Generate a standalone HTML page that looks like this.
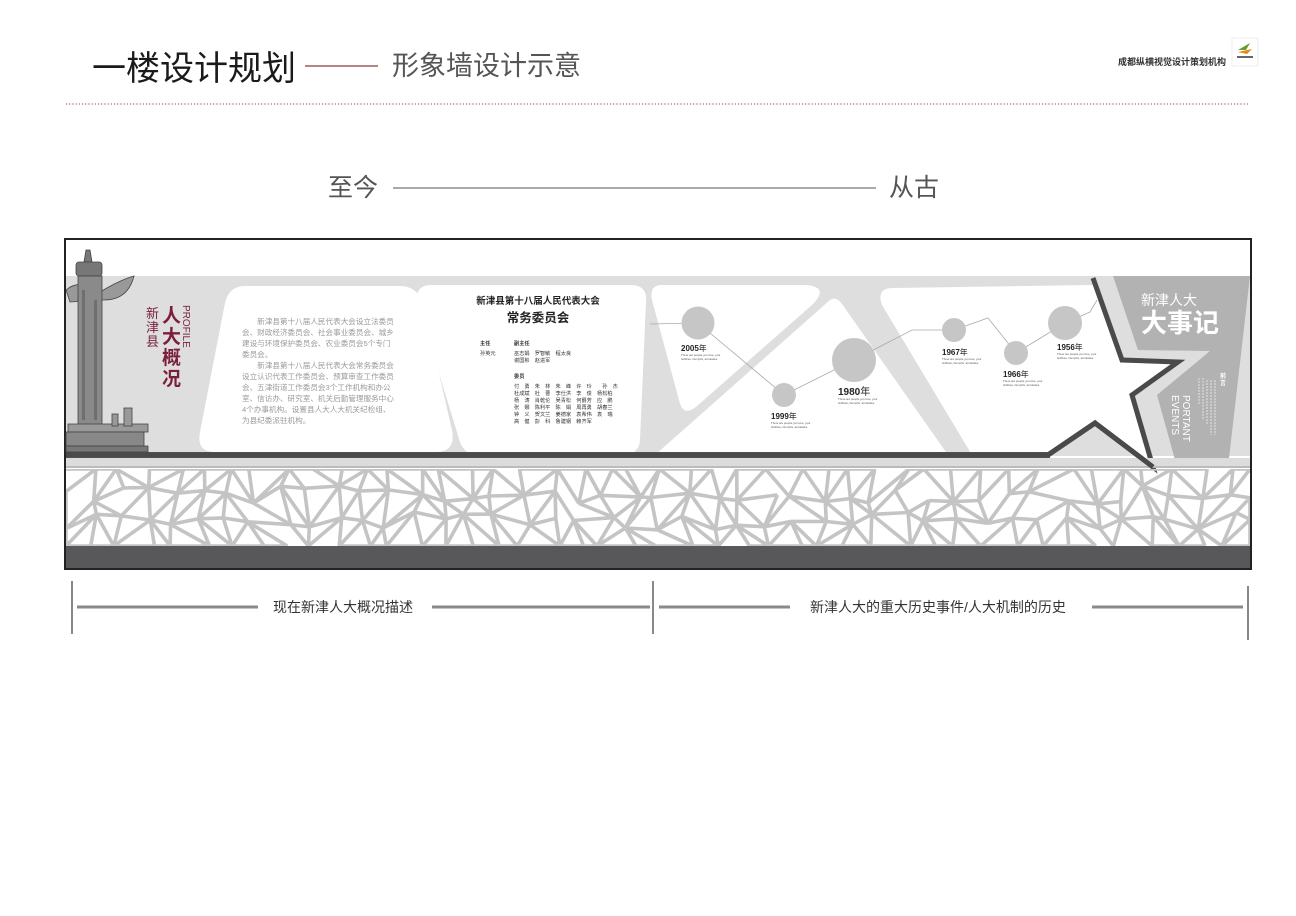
<!DOCTYPE html>
<html><head><meta charset="utf-8"><style>
html,body{margin:0;padding:0;background:#fff;}
svg{display:block;}
text{font-family:"Liberation Sans","Noto Sans CJK SC",sans-serif;}
</style></head><body>
<svg id="s" width="1296" height="916" viewBox="0 0 1296 916" xmlns="http://www.w3.org/2000/svg">
<rect width="1296" height="916" fill="#fff"/>
<!-- header -->
<text x="92" y="80" font-size="34" fill="#1a1a1a">一楼设计规划</text>
<line x1="305" y1="66" x2="378" y2="66" stroke="#8a3a3a" stroke-width="1.2"/>
<text x="392" y="75" font-size="27" fill="#555">形象墙设计示意</text>
<text x="1118" y="65" font-size="9" font-weight="bold" fill="#333">成都纵横视觉设计策划机构</text>
<rect x="1232" y="38" width="26" height="28" fill="#fff" stroke="#ddd" stroke-width="0.5"/>
<path d="M1238 50 L1250 43 L1246 50 Z" fill="#6a9a2a"/>
<path d="M1238 52 L1252 49 L1247 54 Z" fill="#e08a1a"/>
<rect x="1237" y="56" width="16" height="2" fill="#666"/>
<line x1="66" y1="104" x2="1248" y2="104" stroke="#8a4a4a" stroke-width="1" stroke-dasharray="1.2,2"/>
<!-- 至今 从古 -->
<text x="328" y="196" font-size="25" fill="#555">至今</text>
<line x1="393" y1="188" x2="876" y2="188" stroke="#555" stroke-width="1"/>
<text x="889" y="196" font-size="25" fill="#555">从古</text>

<!-- wall -->
<rect x="65" y="239" width="1186" height="330" fill="#fff" stroke="#222" stroke-width="2"/>
<rect x="66" y="276" width="1184" height="180" fill="#dedede"/>
<!-- panels -->
<path d="M245 286 L400 286 Q415 286 422 300 L452 430 Q456 452 436 452 L215 452 Q196 452 200 432 L225 303 Q229 286 245 286 Z" fill="#fff"/>
<path d="M432 285 L630 285 Q648 285 646 302 L640 440 Q639 455 622 455 L478 455 Q465 455 460 442 L418 305 Q413 285 432 285 Z" fill="#fff"/>
<path d="M662 285 L806 285 Q830 287 812 305 L697 406 Q683 418 679 400 L652 300 Q649 285 662 285 Z" fill="#fff"/>
<path d="M830 300 Q836 296 842 304 L948 455 L655 455 Z" fill="#fff"/>
<path d="M893 288 L1093 285 L1122 360 L1178 362 L1132 395 L1153 467 L1095 423 L1048 455 L972 455 L882 305 Q876 288 893 288 Z" fill="#fff"/>
<!-- right panel -->
<path d="M1113 276 L1250 276 L1228 467 L1177 467 L1157 395 L1210 351 L1138 350 Z" fill="#b2b2b2"/>
<!-- dark line + star -->
<rect x="66" y="452" width="984" height="6" fill="#555"/>
<polyline points="66,455 1048,455 1095,423 1153,467 1132,395 1178,362 1122,360 1093,278" fill="none" stroke="#4a4a4a" stroke-width="5" stroke-linejoin="miter"/>
<rect x="66" y="458" width="1184" height="10" fill="#dcdcdc"/>
<rect x="66" y="466" width="1184" height="2" fill="#bbb"/>
<polyline points="66,455 1048,455 1095,423 1153,467" fill="none" stroke="#4a4a4a" stroke-width="5"/>
<!-- pattern -->
<g id="pat"></g>
<rect x="66" y="546" width="1184" height="22" fill="#58585a"/>

<!-- pillar -->
<g fill="#777" stroke="#444" stroke-width="0.8">
<path d="M86 250 L90 250 L92 262 L84 262 Z"/>
<rect x="76" y="262" width="26" height="14" rx="3"/>
<path d="M66 290 Q80 278 100 292 Q120 280 134 276 Q128 300 104 300 L70 302 Z" fill="#999"/>
<rect x="78" y="276" width="24" height="150" fill="#8a8a8a"/>
<rect x="68" y="424" width="80" height="8" fill="#999"/>
<rect x="66" y="432" width="78" height="14" fill="#888"/>
<rect x="66" y="446" width="82" height="6" fill="#777"/>
<rect x="112" y="414" width="6" height="12" fill="#999"/>
<rect x="124" y="408" width="8" height="18" fill="#999"/>
</g>
<g fill="#6f6f6f">
<rect x="82" y="290" width="3" height="130"/><rect x="94" y="300" width="3" height="120"/>
</g>
<!-- left titles -->
<text font-size="13" fill="#7a1f3a"><tspan x="146" y="318">新</tspan><tspan x="146" y="332">津</tspan><tspan x="146" y="346">县</tspan></text>
<text font-size="19" font-weight="bold" fill="#7a1f3a"><tspan x="162" y="322">人</tspan><tspan x="162" y="343">大</tspan><tspan x="162" y="364">概</tspan><tspan x="162" y="385">况</tspan></text>
<text x="183" y="305" font-size="10" fill="#7a1f3a" transform="rotate(90 183 305)">PROFILE</text>

<!-- panel 1 text -->
<g font-size="7.6" fill="#9a9a9a">
<text x="242" y="324">　　新津县第十八届人民代表大会设立法委员</text>
<text x="242" y="335">会、财政经济委员会、社会事业委员会、城乡</text>
<text x="242" y="346">建设与环境保护委员会、农业委员会5个专门</text>
<text x="242" y="357">委员会。</text>
<text x="242" y="368">　　新津县第十八届人民代表大会常务委员会</text>
<text x="242" y="379">设立认识代表工作委员会、预算审查工作委员</text>
<text x="242" y="390">会、五津街道工作委员会3个工作机构和办公</text>
<text x="242" y="401">室、信访办、研究室、机关后勤管理服务中心</text>
<text x="242" y="412">4个办事机构。设置县人大人大机关纪检组、</text>
<text x="242" y="423">为县纪委派驻机构。</text>
</g>
<!-- panel 2 -->
<text x="538" y="304" font-size="9.5" font-weight="bold" fill="#222" text-anchor="middle">新津县第十八届人民代表大会</text>
<text x="538" y="322" font-size="12.5" font-weight="bold" fill="#222" text-anchor="middle">常务委员会</text>
<g font-size="5.2" fill="#333">
<text x="480" y="345" font-weight="bold">主任</text><text x="514" y="345" font-weight="bold">副主任</text>
<text x="480" y="355">孙英元</text><text x="514" y="355">巫志娟　罗智敏　程太良</text>
<text x="514" y="362">谢国彬　赵进军</text>
<text x="514" y="378" font-weight="bold">委员</text>
<text x="514" y="388">付　勇　朱　林　朱　峰　许　玲　　孙　杰</text>
<text x="514" y="395">杜成斌　杜　曹　李仕洪　李　俊　杨松柏</text>
<text x="514" y="402">杨　涛　肖乾伦　吴青松　何爵芳　应　鹏</text>
<text x="514" y="409">张　娜　陈利平　陈　娟　周再勇　胡春兰</text>
<text x="514" y="416">钟　义　贺文兰　姜德家　袁希伟　袁　瑞</text>
<text x="514" y="423">高　健　彭　科　鲁建钢　赖齐军</text>
</g>

<!-- timeline -->
<polyline points="650,324 698,323 784,395 854,360 912,330 954,330 988,318 1016,353 1065,323 1090,312 1097,300" fill="none" stroke="#aaa" stroke-width="0.8"/>
<g fill="#c6c6c6">
<circle cx="698" cy="323" r="16.5"/><circle cx="784" cy="395" r="12"/><circle cx="854" cy="360" r="22"/>
<circle cx="954" cy="330" r="12"/><circle cx="1016" cy="353" r="12"/><circle cx="1065" cy="323" r="17"/>
</g>
<g font-weight="bold" fill="#222">
<text x="681" y="351" font-size="8">2005<tspan font-weight="normal">年</tspan></text>
<text x="771" y="419" font-size="8">1999<tspan font-weight="normal">年</tspan></text>
<text x="838" y="395" font-size="10">1980<tspan font-weight="normal">年</tspan></text>
<text x="942" y="355" font-size="8">1967<tspan font-weight="normal">年</tspan></text>
<text x="1003" y="377" font-size="8">1966<tspan font-weight="normal">年</tspan></text>
<text x="1057" y="350" font-size="8">1956<tspan font-weight="normal">年</tspan></text>
</g>
<g font-size="2.8" fill="#555">
<text x="681" y="356">There are people you love, your</text><text x="681" y="360">hobbies, triumphs, accolades</text>
<text x="771" y="424">There are people you love, your</text><text x="771" y="428">hobbies, triumphs, accolades</text>
<text x="838" y="400">There are people you love, your</text><text x="838" y="404">hobbies, triumphs, accolades</text>
<text x="942" y="360">There are people you love, your</text><text x="942" y="364">hobbies, triumphs, accolades</text>
<text x="1003" y="382">There are people you love, your</text><text x="1003" y="386">hobbies, triumphs, accolades</text>
<text x="1057" y="355">There are people you love, your</text><text x="1057" y="359">hobbies, triumphs, accolades</text>
</g>
<!-- right panel text -->
<text x="1141" y="305" font-size="14" fill="#fff">新津人大</text>
<text x="1141" y="332" font-size="26" font-weight="bold" fill="#fff">大事记</text>
<text x="1183" y="395" font-size="10" fill="#fff" transform="rotate(90 1183 395)">PORTANT</text>
<text x="1172" y="395" font-size="10" fill="#fff" transform="rotate(90 1172 395)">EVENTS</text>
<text font-size="6" font-weight="bold" fill="#fff"><tspan x="1220" y="378">前</tspan><tspan x="1220" y="385">言</tspan></text>
<g stroke="#eee" stroke-width="0.8" stroke-dasharray="2,1">
<line x1="1199" y1="378" x2="1199" y2="405"/><line x1="1203" y1="378" x2="1203" y2="420"/>
<line x1="1207" y1="380" x2="1207" y2="425"/><line x1="1211" y1="380" x2="1211" y2="435"/>
<line x1="1215" y1="380" x2="1215" y2="435"/>
</g>

<!-- bottom annotations -->
<g stroke="#888" stroke-width="2">
<line x1="72" y1="581" x2="72" y2="634"/>
<line x1="653" y1="581" x2="653" y2="634"/>
<line x1="1248" y1="586" x2="1248" y2="640"/>
</g>
<g stroke="#8a8a8a" stroke-width="3">
<line x1="77" y1="607" x2="258" y2="607"/>
<line x1="432" y1="607" x2="650" y2="607"/>
<line x1="659" y1="607" x2="790" y2="607"/>
<line x1="1092" y1="607" x2="1243" y2="607"/>
</g>
<text x="343" y="612" font-size="14" fill="#333" text-anchor="middle">现在新津人大概况描述</text>
<text x="938" y="612" font-size="14" fill="#333" text-anchor="middle">新津人大的重大历史事件/人大机制的历史</text>
</svg>
<script>
(function(){
var s=12345;function r(){s=(s*1103515245+12345)%2147483648;return s/2147483648;}
var g=document.getElementById('pat'),ns='http://www.w3.org/2000/svg';
var x0=66,x1=1250,y0=469,y1=546,dx=27,dy=26;
var cols=Math.ceil((x1-x0)/dx)+1,rows=Math.ceil((y1-y0)/dy)+1,P=[];
for(var j=0;j<rows;j++){P[j]=[];for(var i=0;i<cols;i++){
var x=x0+i*dx+(i>0&&i<cols-1?(r()-.5)*dx*.7:0);
var y=y0+j*dy+(j>0&&j<rows-1?(r()-.5)*dy*.7:0);
if(j==rows-1)y=y1;if(i==cols-1)x=x1;P[j][i]=[x,y];}}
var d='';
function L(a,b){d+='M'+a[0].toFixed(1)+' '+a[1].toFixed(1)+'L'+b[0].toFixed(1)+' '+b[1].toFixed(1);}
for(var j=0;j<rows;j++)for(var i=0;i<cols;i++){
if(i<cols-1&&r()>.1)L(P[j][i],P[j][i+1]);
if(j<rows-1&&r()>.1)L(P[j][i],P[j+1][i]);
if(i<cols-1&&j<rows-1){if(r()>.5)L(P[j][i],P[j+1][i+1]);else L(P[j][i+1],P[j+1][i]);}}
var cp=document.createElementNS(ns,'clipPath');cp.setAttribute('id','cp');
var rc=document.createElementNS(ns,'rect');rc.setAttribute('x',x0);rc.setAttribute('y',y0);rc.setAttribute('width',x1-x0);rc.setAttribute('height',y1-y0);
cp.appendChild(rc);g.appendChild(cp);
var p=document.createElementNS(ns,'path');p.setAttribute('d',d);p.setAttribute('stroke','#c4c4c4');p.setAttribute('stroke-width','3.6');p.setAttribute('fill','none');p.setAttribute('clip-path','url(#cp)');
g.appendChild(p);
})();
</script>
</body></html>
